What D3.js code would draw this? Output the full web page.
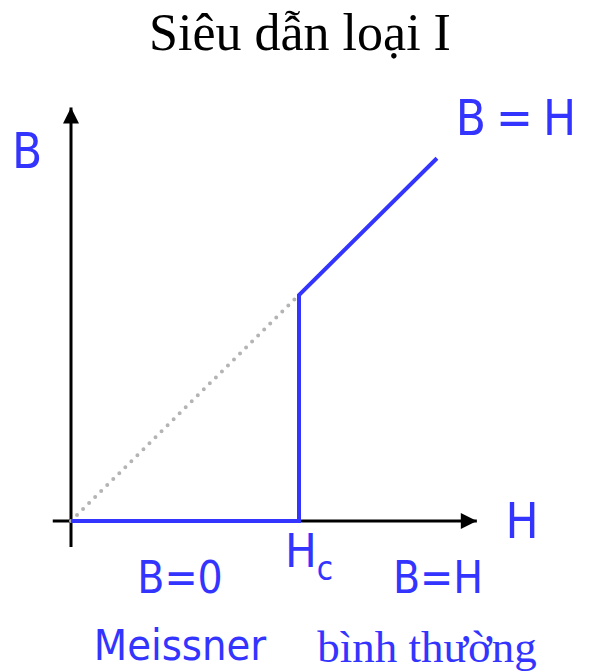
<!DOCTYPE html>
<html>
<head>
<meta charset="utf-8">
<script src="https://cdn.jsdelivr.net/npm/d3@7"></script>
<style>
  body { margin: 0; background: white; }
  .sans { font-family: "DejaVu Sans Condensed", "DejaVu Sans", Verdana, sans-serif; font-stretch: condensed; fill: #3434ff; }
  .serif { font-family: "Liberation Serif", "Times New Roman", serif; }
</style>
</head>
<body>
<div id="chart"></div>
<script>
// B(H) for a type I superconductor, Hc = 1
var hc = 1;
var hMax = 1.605;
var curve = [[0, 0], [hc, 0], [hc, hc], [hMax, hMax]];   // B = 0 below Hc, B = H above
var dotted = [[0, 0], [hc, hc]];                          // B = H extension
var xAxisRange = [-0.08, 1.78];
var yAxisRange = [-0.115, 1.83];

var width = 601, height = 672;
var blue = "#3434ff";

var svg = d3.select("#chart")
    .append("svg")
    .attr("width", width)
    .attr("height", height);

var x = d3.scaleLinear().domain([0, 1]).range([71, 299]);
var y = d3.scaleLinear().domain([0, 1]).range([521, 295]);

var line = d3.line()
    .x(function(d) { return x(d[0]); })
    .y(function(d) { return y(d[1]); });

// arrow head
svg.append("defs").append("marker")
    .attr("id", "arrow")
    .attr("viewBox", "0 0 10 10")
    .attr("refX", 10).attr("refY", 5)
    .attr("markerUnits", "userSpaceOnUse")
    .attr("markerWidth", 18).attr("markerHeight", 16)
    .attr("orient", "auto")
    .append("path")
    .attr("d", "M0,0 L10,5 L0,10 Z")
    .attr("fill", "black");

// axes
svg.append("line")
    .attr("x1", x(xAxisRange[0])).attr("y1", y(0))
    .attr("x2", x(xAxisRange[1])).attr("y2", y(0))
    .attr("stroke", "black").attr("stroke-width", 3)
    .attr("marker-end", "url(#arrow)");

svg.append("line")
    .attr("x1", x(0)).attr("y1", y(yAxisRange[0]))
    .attr("x2", x(0)).attr("y2", y(yAxisRange[1]))
    .attr("stroke", "black").attr("stroke-width", 3)
    .attr("marker-end", "url(#arrow)");

// dotted B = H
svg.append("path")
    .attr("d", line(dotted))
    .attr("fill", "none")
    .attr("stroke", "#b4b4b4")
    .attr("stroke-width", 4)
    .attr("stroke-linecap", "round")
    .attr("stroke-dasharray", "0,8.5");

// the curve
svg.append("path")
    .attr("d", line(curve))
    .attr("fill", "none")
    .attr("stroke", blue)
    .attr("stroke-width", 4)
    .attr("stroke-linejoin", "miter");

// title
svg.append("text")
    .attr("class", "serif")
    .attr("x", 300).attr("y", 50)
    .attr("text-anchor", "middle")
    .style("font-size", "52px")
    .text("Siêu dẫn loại I");

// labels
svg.append("text").attr("class", "sans")
    .attr("x", 27).attr("y", 168)
    .attr("text-anchor", "middle")
    .style("font-size", "49px")
    .text("B");

svg.append("text").attr("class", "sans")
    .attr("x", 516).attr("y", 135)
    .attr("text-anchor", "middle")
    .style("font-size", "49px")
    .style("word-spacing", "-4px")
    .text("B = H");

svg.append("text").attr("class", "sans")
    .attr("x", 522).attr("y", 538)
    .attr("text-anchor", "middle")
    .style("font-size", "49px")
    .text("H");

var hcLabel = svg.append("text").attr("class", "sans")
    .attr("x", 285).attr("y", 567)
    .style("font-size", "47px");
hcLabel.append("tspan").text("H");
hcLabel.append("tspan").attr("dy", 13).style("font-size", "33px").text("c");

svg.append("text").attr("class", "sans")
    .attr("x", 180).attr("y", 593)
    .attr("text-anchor", "middle")
    .style("font-size", "44px")
    .text("B=0");

svg.append("text").attr("class", "sans")
    .attr("x", 438).attr("y", 593)
    .attr("text-anchor", "middle")
    .style("font-size", "44px")
    .text("B=H");

svg.append("text").attr("class", "sans")
    .attr("x", 180).attr("y", 660)
    .attr("text-anchor", "middle")
    .style("font-size", "43px")
    .text("Meissner");

svg.append("text").attr("class", "serif")
    .attr("x", 427).attr("y", 662)
    .attr("text-anchor", "middle")
    .style("font-size", "45px")
    .style("fill", blue)
    .text("bình thường");
</script>
</body>
</html>
